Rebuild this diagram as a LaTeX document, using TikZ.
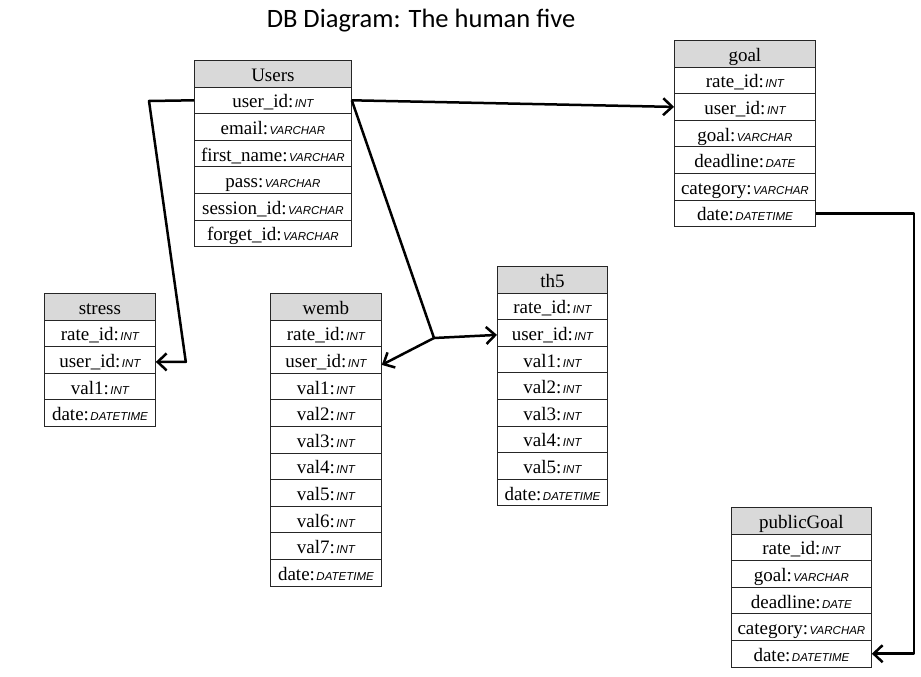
\documentclass[tikz,border=0pt]{standalone}
\usepackage{fontspec}
\setmainfont{Liberation Serif}
\newfontfamily\typefont{Liberation Sans}
\newfontfamily\titlefont{Carlito}
\usetikzlibrary{arrows.meta,calc}
\definecolor{hdrgray}{RGB}{217,217,217}
\newcommand{\ty}[1]{\kern1.5pt{\typefont\itshape\fontsize{11.5}{13}\selectfont #1}}
\newcommand{\fldfont}{\fontsize{19}{22}\selectfont}
\tikzset{
  cell/.style={draw=black!85, line width=0.8pt, minimum height=26.6pt, inner sep=0pt, text height=16pt, text depth=1pt, anchor=north west, font=\fldfont},
  hdr/.style={cell, fill=hdrgray},
  fld/.style={cell, fill=white},
  conn/.style={line width=2.5pt, line join=round, black},
  arr/.style={-{Straight Barb[length=9pt,width=17pt]}},
  ttl/.style={font=\titlefont\fontsize{26.5}{30}\selectfont}
}
\newcommand{\dbtab}[6]{%
  \node[hdr, minimum width=#4] (#1-0) at (#2,#3) {#5};
  \foreach \r [count=\i] in {#6} {
    \node[fld, minimum width=#4] (#1-\i) at (#2,{#3+\i*26.6}) {\r};
  }
}
\begin{document}
\begin{tikzpicture}[x=1pt,y=-1pt]
\useasboundingbox (0,0) rectangle (921,677);
\node[ttl] (title) at (421,21) {DB Diagram: The human five};

\dbtab{users}{194}{60}{157pt}{Users}{{user\_id:\ty{INT}},{email:\ty{VARCHAR}},{first\_name:\ty{VARCHAR}},{pass:\ty{VARCHAR}},{session\_id:\ty{VARCHAR}},{forget\_id:\ty{VARCHAR}}}
\dbtab{stress}{44}{293}{111pt}{stress}{{rate\_id:\ty{INT}},{user\_id:\ty{INT}},{val1:\ty{INT}},{date:\ty{DATETIME}}}
\dbtab{wemb}{270}{293}{111pt}{wemb}{{rate\_id:\ty{INT}},{user\_id:\ty{INT}},{val1:\ty{INT}},{val2:\ty{INT}},{val3:\ty{INT}},{val4:\ty{INT}},{val5:\ty{INT}},{val6:\ty{INT}},{val7:\ty{INT}},{date:\ty{DATETIME}}}
\dbtab{th5}{497}{266}{110pt}{th5}{{rate\_id:\ty{INT}},{user\_id:\ty{INT}},{val1:\ty{INT}},{val2:\ty{INT}},{val3:\ty{INT}},{val4:\ty{INT}},{val5:\ty{INT}},{date:\ty{DATETIME}}}
\dbtab{goal}{674}{40}{141pt}{goal}{{rate\_id:\ty{INT}},{user\_id:\ty{INT}},{goal:\ty{VARCHAR}},{deadline:\ty{DATE}},{category:\ty{VARCHAR}},{date:\ty{DATETIME}}}
\dbtab{pg}{731}{507}{140pt}{publicGoal}{{rate\_id:\ty{INT}},{goal:\ty{VARCHAR}},{deadline:\ty{DATE}},{category:\ty{VARCHAR}},{date:\ty{DATETIME}}}

\coordinate (c1) at (149,101);
\draw[conn,arr] (users-1.west) -- (c1) -- ([xshift=30pt,yshift=-2pt]stress-2.east) -- ([yshift=-2pt]stress-2.east);
\draw[conn,arr] (users-1.east) -- (goal-2.west);
\coordinate (j) at (434,338);
\draw[conn] (users-1.east) -- (j);
\draw[conn,arr] (j) -- ([yshift=-5pt]wemb-2.east);
\draw[conn,arr] (j) -- ([yshift=-2pt]th5-2.west);
\draw[conn,arr] (goal-6.east) -- ++(98,0) |- (pg-5.east);
\end{tikzpicture}
\end{document}
